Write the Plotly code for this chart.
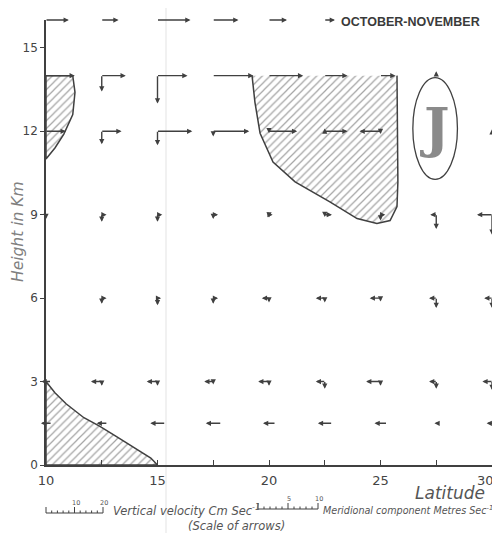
import plotly.graph_objects as go

# ---------------- data ----------------
LATITUDES = [10, 12.5, 15, 17.5, 20, 22.5, 25, 27.5, 30]
HEIGHTS = [16, 14, 12, 9, 6, 3, 1.5]

# meridional component (m/s, + = northward), None = no arrow
U_16KM = [3.8, 2.8, 5.5, 4.2, 3.0, 1.7, None, None, None]
U_14KM = [4.8, 4.0, 5.0, 6.7, 5.7, 3.8, 2.5, 0.3, 0.3]
U_12KM = [3.3, 3.3, 5.8, 6.0, 4.7, 3.8, -3.5, None, 0.3]
U_9KM = [0.3, 0.8, 0.8, 0.8, 0.6, 1.2, 0.8, -1.0, -2.5]
U_6KM = [0.3, 0.8, 0.6, 0.8, -1.2, -1.5, -1.8, -1.2, -1.3]
U_3KM = [-1.5, -1.8, -1.8, -1.5, -1.8, -1.5, -2.4, -1.2, -1.6]
U_1_5KM = [-1.7, -1.7, -2.4, -2.5, -2.0, -2.3, -2.0, -0.6, -1.8]

# vertical velocity (cm/s, + = upward)
W_16KM = [0, 0, 0, 0, 0, 0, 0, 0, 0]
W_14KM = [0, -5.6, -9.8, 0, 0, 0, 0, 1.5, 0.5]
W_12KM = [0, -4.6, -4.9, -1.8, -0.7, 1.0, -1.0, 0, 0.7]
W_9KM = [-1.5, -2.5, -2.5, -1.5, -1.0, -0.8, -2.0, -5.0, -7.0]
W_6KM = [-0.5, -2.0, -2.5, -2.0, -1.5, -1.5, -1.2, -3.5, -3.5]
W_3KM = [0, -1.5, -1.5, -1.0, -1.5, -2.5, -1.5, -2.5, -3.0]
W_1_5KM = [0, 0, 0, 0, 0, 0, 0, 0, 0]

U_ROWS = [U_16KM, U_14KM, U_12KM, U_9KM, U_6KM, U_3KM, U_1_5KM]
W_ROWS = [W_16KM, W_14KM, W_12KM, W_9KM, W_6KM, W_3KM, W_1_5KM]

# hatched regions (latitude, height km)
LOWER_LEFT_LAT = [10, 10, 10.4, 10.9, 11.7, 12.4, 13.2, 13.9, 14.7, 15, 10]
LOWER_LEFT_H = [0, 3, 2.6, 2.2, 1.7, 1.4, 1.0, 0.64, 0.25, 0, 0]
UPPER_LEFT_LAT = [10, 11.2, 11.3, 11.2, 10.8, 10.4, 10, 10]
UPPER_LEFT_H = [14, 14, 13.4, 12.6, 11.9, 11.4, 11.0, 14]
CENTRE_LAT = [19.24, 19.37, 19.6, 20.18, 21.17, 22.73, 23.95, 24.84, 25.43, 25.74, 25.78, 25.74]
CENTRE_H = [14, 13.04, 11.93, 10.89, 10.18, 9.46, 8.86, 8.68, 8.79, 9.29, 10.18, 14]

JET_CENTRE = (27.45, 12.1)
JET_HALF = (1.0, 1.83)

X_TICKS = [10, 15, 20, 25, 30]
X_TICK_TEXT = ["10", "15", "20", "25", "30°<sup>N</sup>"]
X_MINOR_STEP = 2.5
Y_TICKS = [0, 3, 6, 9, 12, 15]

# ---------------- geometry ----------------
# the page body has an 8px margin; the figure is sized so that the visible
# 500x533 window holds exactly what the reference shows
PAGE_OFF = 8
W_PX, H_PX = 500 - PAGE_OFF, 533 - PAGE_OFF
ML, MR, MT, MB = 46 - PAGE_OFF, 8, 20 - PAGE_OFF, 68
X_RANGE = [10, 30]
Y_RANGE = [0, 16]
PLOT_W = W_PX - ML - MR
PLOT_H = H_PX - MT - MB
PX_DEG = PLOT_W / (X_RANGE[1] - X_RANGE[0])
PX_KM = PLOT_H / (Y_RANGE[1] - Y_RANGE[0])
PX_PER_MS = 6.0     # arrow scale: pixels per m/s
PX_PER_CMS = 2.85   # arrow scale: pixels per cm/s
K_U = PX_PER_MS / PX_DEG
K_W = PX_PER_CMS / PX_KM

INK = "#404040"


def px2paper(px, py):
    """screen pixel (in the 500x533 window) -> paper coords"""
    px -= PAGE_OFF
    py -= PAGE_OFF
    return (px - ML) / PLOT_W, (H_PX - MB - py) / PLOT_H


def arrow(x0, y0, x1, y1):
    return dict(x=x1, y=y1, ax=x0, ay=y0, xref="x", yref="y", axref="x", ayref="y",
                text="", showarrow=True, arrowhead=2, arrowsize=0.75, arrowwidth=1.4,
                arrowcolor=INK, standoff=0, startstandoff=0, borderpad=0)


def label(text, px, py, size, color="#555", family="DejaVu Sans", xanchor="center",
          angle=0):
    x, y = px2paper(px, py)
    return dict(text=text, x=x, y=y, xref="paper", yref="paper", xanchor=xanchor,
                yanchor="middle", showarrow=False, textangle=angle,
                font=dict(family=family, size=size, color=color))


fig = go.Figure()

pattern = dict(shape="/", size=5.5, solidity=0.22, fgcolor="#4a4a4a", bgcolor="white")
fig.add_trace(go.Scatter(x=LOWER_LEFT_LAT, y=LOWER_LEFT_H, fill="toself", mode="lines",
                         line=dict(color=INK, width=1.5), fillpattern=pattern,
                         hoverinfo="skip", showlegend=False))
fig.add_trace(go.Scatter(x=UPPER_LEFT_LAT, y=UPPER_LEFT_H, fill="toself", mode="lines",
                         line=dict(color=INK, width=1.5), fillpattern=pattern,
                         hoverinfo="skip", showlegend=False))
fig.add_trace(go.Scatter(x=CENTRE_LAT, y=CENTRE_H, fill="toself", mode="lines",
                         line=dict(color="rgba(0,0,0,0)", width=0), fillpattern=pattern,
                         hoverinfo="skip", showlegend=False))
fig.add_trace(go.Scatter(x=CENTRE_LAT, y=CENTRE_H, mode="lines",
                         line=dict(color=INK, width=1.5),
                         hoverinfo="skip", showlegend=False))

annotations = []
for h, urow, wrow in zip(HEIGHTS, U_ROWS, W_ROWS):
    for lat, u, w in zip(LATITUDES, urow, wrow):
        if u is None:
            continue
        x0 = lat
        if u < 0 and w == 0:
            x0 = lat + 0.5 * abs(u) * K_U
        annotations.append(arrow(x0, h, x0 + u * K_U, h))
        if w:
            annotations.append(arrow(x0, h, x0, h + w * K_W))

annotations.append(label("<b>OCTOBER-NOVEMBER</b>", 339, 22, 12.5, "#3a3a3a",
                         "Liberation Sans", xanchor="left"))
annotations.append(dict(text="<b>J</b>", x=JET_CENTRE[0], y=JET_CENTRE[1], xref="x", yref="y",
                        showarrow=False, xanchor="center", yanchor="middle",
                        font=dict(family="DejaVu Serif", size=54, color="#8a8a8a")))
annotations.append(label("<i>Height in Km</i>", 18, 232, 15.5, "#808080", angle=-90))
annotations.append(label("<i>Latitude</i>", 450, 493, 17, "#555"))
annotations.append(label("<i>Vertical velocity Cm Sec<sup>-1</sup></i>", 111, 511, 11.5,
                         xanchor="left"))
annotations.append(label("<i>Meridional component Metres Sec<sup>-1</sup></i>", 321, 510, 9.6,
                         xanchor="left"))
annotations.append(label("<i>(Scale of arrows)</i>", 236, 526, 11.5))

shapes = []
# faint scan fold line
fx0, fy0 = px2paper(166, 533)
_, fy1 = px2paper(166, 0)
shapes.append(dict(type="line", xref="paper", yref="paper", x0=fx0, x1=fx0, y0=fy0, y1=fy1,
                   line=dict(color="#ececec", width=1.5), layer="below"))
# jet ellipse
shapes.append(dict(type="circle", xref="x", yref="y",
                   x0=JET_CENTRE[0] - JET_HALF[0], x1=JET_CENTRE[0] + JET_HALF[0],
                   y0=JET_CENTRE[1] - JET_HALF[1], y1=JET_CENTRE[1] + JET_HALF[1],
                   line=dict(color=INK, width=1.3)))


def ruler(px0, py, value, step, major, px_per_unit, labels):
    n = int(round(value / step))
    length = value * px_per_unit
    a, b = px2paper(px0, py)
    c, d = px2paper(px0 + length, py)
    shapes.append(dict(type="line", xref="paper", yref="paper", x0=a, x1=c, y0=b, y1=d,
                       line=dict(color=INK, width=1.2)))
    for i in range(n + 1):
        v = i * step
        tx_ = px0 + v * px_per_unit
        is_major = abs(v / major - round(v / major)) < 1e-6
        th = 6 if is_major else 2.5
        p, q = px2paper(tx_, py)
        p2, q2 = px2paper(tx_, py - th)
        shapes.append(dict(type="line", xref="paper", yref="paper", x0=p, x1=p2, y0=q, y1=q2,
                           line=dict(color=INK, width=1)))
        if is_major and v in labels:
            annotations.append(label(labels[v], tx_ + 1, py - 10, 6.5))


ruler(46, 513, 20, 2, 10, PX_PER_CMS, {10: "10", 20: "20"})
ruler(258, 509, 10, 1, 5, PX_PER_MS, {5: "5", 10: "10"})

fig.update_layout(
    width=W_PX, height=H_PX,
    margin=dict(l=ML, r=MR, t=MT, b=MB, autoexpand=False),
    paper_bgcolor="white", plot_bgcolor="white",
    showlegend=False,
    annotations=annotations,
    shapes=shapes,
    xaxis=dict(range=X_RANGE, tickvals=X_TICKS, ticktext=X_TICK_TEXT, ticks="inside",
               ticklen=5, tickcolor=INK, showline=True, linecolor=INK, linewidth=1.5,
               minor=dict(dtick=X_MINOR_STEP, tick0=X_RANGE[0], ticks="inside", ticklen=5,
                          tickcolor=INK, showgrid=False),
               showgrid=False, zeroline=False, ticklabeloverflow="allow",
               ticklabelstandoff=3, automargin=False,
               tickfont=dict(family="DejaVu Sans", size=13, color="#444")),
    yaxis=dict(range=Y_RANGE, tickvals=Y_TICKS, ticks="outside", ticklen=4,
               tickcolor=INK, showline=True, linecolor=INK, linewidth=1.5,
               showgrid=False, zeroline=False, automargin=False,
               tickfont=dict(family="DejaVu Sans", size=12, color="#444")),
)

fig.write_html("out.html")
